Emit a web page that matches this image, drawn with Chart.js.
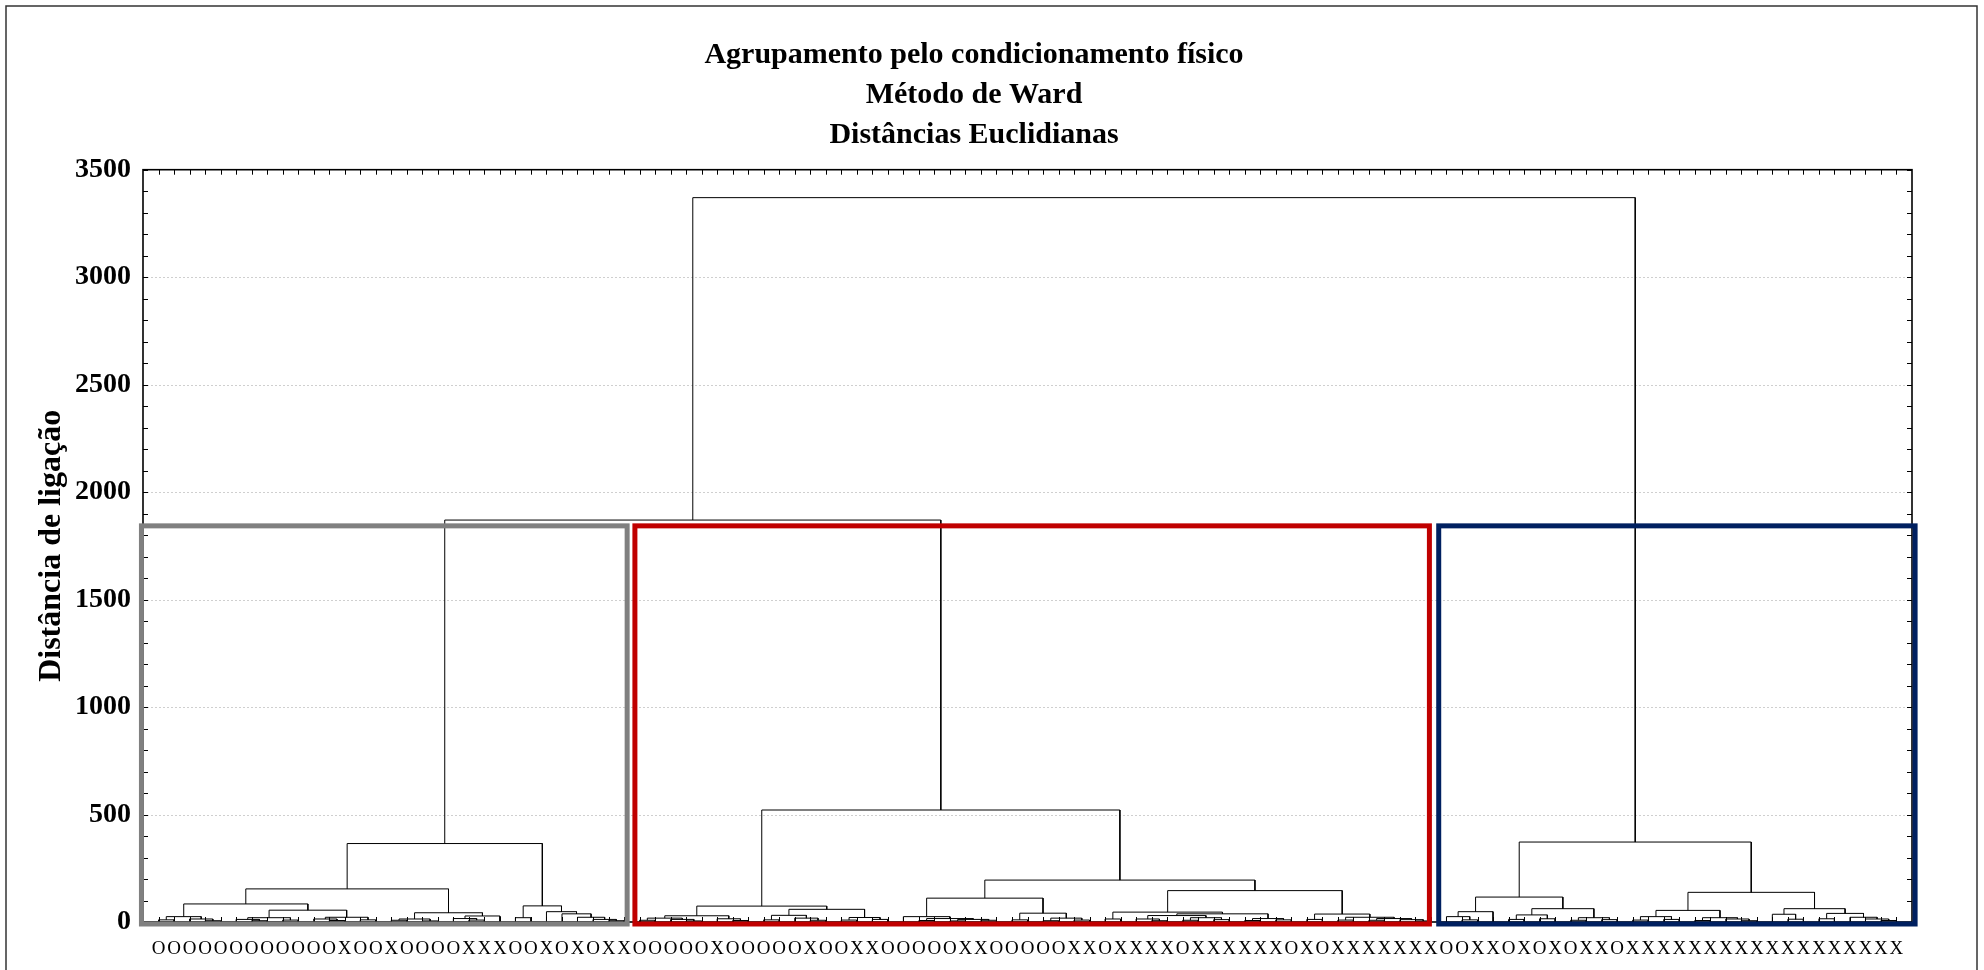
<!DOCTYPE html>
<html>
<head>
<meta charset="utf-8">
<script src="https://cdn.jsdelivr.net/npm/chart.js@4.4.1/dist/chart.umd.min.js"></script>
<style>
  html, body { margin: 0; padding: 0; background: #fff; }
  canvas { display: block; }
</style>
</head>
<body>
<canvas id="dendro" width="1984" height="970"></canvas>
<script>
// Ward dendrogram: leaves in plot order, O / X per case
const leafLabels = (
  'OOOOOOOOOOOOXOOXOOOOXXXOOXOXOXX' +
  'OOOOOXOOOOOXOOXXOOOOOXXOOOOOXXOXXXXOXXXXXXOXOXXXXXXX' +
  'OOXXOXOXOXXOXXXXXXXXXXXXXXXXXX'
).split('')

// merges as [height, left, right]; 0 = a leaf (taken in order)
const grayTree = [365,
  [154,
    [84,
      [25, [10, 0, 0], [14, 0, [6, 0, 0]]],
      [55, [20, [12, 0, [6, 0, 0]], [9, 0, 0]], [22, [14, 0, [7, 0, 0]], [10, 0, 0]]]],
    [43,
      [14, [8, 0, 0], [5, 0, 0]],
      [28, [16, 0, [9, 0, 0]], 0]]],
  [75,
    [20, 0, 0],
    [48, 0, [38, 0, [22, 0, [12, 0, [6, 0, 0]]]]]]]

const redTree = [521,
  [74,
    [29, [18, [8, 0, 0], [12, 0, [5, 0, 0]]], [15, 0, [7, 0, 0]]],
    [59, [31, [10, 0, 0], [18, 0, [8, 0, 0]]], [21, [9, 0, 0], [12, 0, 0]]]],
  [195,
    [111,
      [25, 0, [16, [7, 0, 0], [12, [5, 0, 0], [8, 0, 0]]]],
      [41, [10, 0, 0], [18, [6, 0, 0], [9, 0, 0]]]],
    [146,
      [46, [14, 0, 0], [38, [30, [14, 0, [6, 0, 0]], [20, [8, 0, 0], [11, 0, 0]]], [16, [7, 0, 0], [10, 0, 0]]]],
      [37, [12, 0, 0], [22, [9, 0, 0], [16, [8, 0, 0], [11, 0, [5, 0, 0]]]]]]]]

const blueTree = [372,
  [116,
    [48, [25, 0, [10, 0, 0]], 0],
    [62, [33, [12, 0, 0], [15, 0, 0]], [20, [8, 0, 0], [11, 0, 0]]]],
  [138,
    [54, [25, [9, 0, 0], [12, 0, 0]], [20, [7, 0, 0], [14, 0, [6, 0, 0]]]],
    [62, [36, 0, [13, 0, 0]], [40, [15, 0, 0], [22, 0, [14, 0, [7, 0, 0]]]]]]]

const joinHeights = [1870, 3370]
const fullTree = [joinHeights[1], [joinHeights[0], grayTree, redTree], blueTree]

// highlighted groups, in x-axis units, cut at this linkage distance
const groupSpans = [[-0.1, 31.2], [31.7, 82.9], [83.5, 114.2]]
const groupColors = ['#808080', '#c00000', '#002060']
const cutHeight = 1843

const titleLines = ['Agrupamento pelo condicionamento físico', 'Método de Ward', 'Distâncias Euclidianas']
const yTitle = 'Distância de ligação'

// turn the tree into line segments (null point = pen up)
let nextLeaf = 1
const segs = []
function walk(node){
  if(!Array.isArray(node)) return {x: nextLeaf++, y: 0}
  const a = walk(node[1]), b = walk(node[2]), h = node[0]
  segs.push({x:a.x, y:a.y}, {x:a.x, y:h}, {x:b.x, y:h}, {x:b.x, y:b.y}, {x:b.x, y:null})
  return {x:(a.x+b.x)/2, y:h}
}
walk(fullTree)

const serif = 'Liberation Serif, Times New Roman, serif'

const decor = {
  id: 'decor',
  beforeDatasetsDraw(chart){
    const {ctx, chartArea:a, scales:{y}} = chart
    ctx.save()
    ctx.strokeStyle = '#cfcfcf'
    ctx.lineWidth = 1
    ctx.setLineDash([2, 2])
    y.ticks.forEach(t=>{
      if(t.value<=0 || t.value>=y.max) return
      const py = Math.round(y.getPixelForValue(t.value))+0.5
      ctx.beginPath(); ctx.moveTo(a.left, py); ctx.lineTo(a.right, py); ctx.stroke()
    })
    ctx.restore()
  },
  afterDatasetsDraw(chart){
    const {ctx, chartArea:a, scales:{x, y}} = chart
    ctx.save()
    // inward ticks
    ctx.strokeStyle = '#000'
    ctx.lineWidth = 1
    ctx.beginPath()
    for(let i=1;i<=leafLabels.length;i++){
      const px = Math.round(x.getPixelForValue(i))+0.5
      ctx.moveTo(px, a.top); ctx.lineTo(px, a.top+5)
      ctx.moveTo(px, a.bottom); ctx.lineTo(px, a.bottom-5)
    }
    for(let v=0; v<=y.max; v+=100){
      const py = Math.round(y.getPixelForValue(v))+0.5
      ctx.moveTo(a.left, py); ctx.lineTo(a.left+5, py)
      ctx.moveTo(a.right, py); ctx.lineTo(a.right-5, py)
    }
    ctx.stroke()
    // plot frame
    ctx.lineWidth = 1.6
    ctx.strokeRect(a.left, a.top, a.right-a.left, a.bottom-a.top)
    // group boxes
    ctx.lineWidth = 5
    groupSpans.forEach((s, i)=>{
      const l = x.getPixelForValue(s[0]), r = x.getPixelForValue(s[1])
      const t = y.getPixelForValue(cutHeight), b = y.getPixelForValue(0)+2
      ctx.strokeStyle = groupColors[i]
      ctx.strokeRect(l, t, r-l, b-t)
    })
    // outer picture border
    ctx.strokeStyle = '#333'
    ctx.lineWidth = 1.5
    ctx.strokeRect(6, 6, chart.width-13, chart.height+20)
    ctx.restore()
  }
}

new Chart(document.getElementById('dendro'), {
  type: 'scatter',
  data: {
    datasets: [{
      data: segs,
      showLine: true,
      spanGaps: false,
      borderColor: '#000',
      borderWidth: 1,
      pointRadius: 0,
      tension: 0
    }]
  },
  options: {
    responsive: false,
    animation: false,
    layout: {padding: {left: 36, right: 72, top: 0, bottom: 0}},
    plugins: {
      legend: {display: false},
      tooltip: {enabled: false},
      title: {
        display: true,
        text: titleLines,
        color: '#000',
        font: {family: serif, size: 30, weight: 'bold', lineHeight: 1.33},
        padding: {top: 35, bottom: 15}
      }
    },
    scales: {
      x: {
        type: 'linear',
        min: 0,
        max: leafLabels.length + 1,
        grid: {display: false, drawTicks: false},
        border: {display: false},
        ticks: {
          stepSize: 1,
          autoSkip: false,
          maxRotation: 0,
          padding: 16,
          color: '#000',
          font: {family: serif, size: 19},
          callback: v => leafLabels[v-1] || ''
        },
        afterFit: s => { s.height = 48 }
      },
      y: {
        min: 0,
        max: 3500,
        grid: {display: false, drawTicks: false},
        border: {display: false},
        ticks: {
          stepSize: 500,
          padding: 12,
          color: '#000',
          font: {family: serif, size: 28, weight: 'bold'},
          callback: v => String(v)
        },
        title: {
          display: true,
          text: yTitle,
          color: '#000',
          font: {family: serif, size: 32, weight: 'bold', lineHeight: 0.8},
          padding: {top: 3, bottom: 0}
        },
        afterFit: s => { s.width = 107 }
      }
    }
  },
  plugins: [decor]
})
</script>
</body>
</html>
